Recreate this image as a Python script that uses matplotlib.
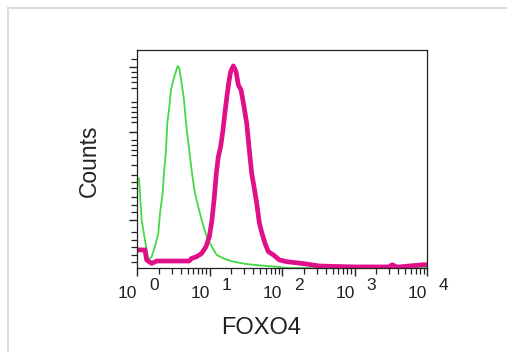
import numpy as np
import matplotlib
matplotlib.use("Agg")
import matplotlib.pyplot as plt
from matplotlib.lines import Line2D
from matplotlib.transforms import blended_transform_factory, ScaledTranslation

plt.rcParams['font.family'] = ['Liberation Sans', 'DejaVu Sans']

# Green histogram (isotype control): log10 intensity vs counts
green_log = [0.0, 0.028, 0.064, 0.11, 0.156, 0.202, 0.248, 0.294, 0.317, 0.354, 0.372,
             0.40, 0.418, 0.446, 0.469, 0.501, 0.529, 0.561, 0.584, 0.616, 0.648,
             0.676, 0.703, 0.731, 0.759, 0.791, 0.832, 0.892, 0.961, 1.03, 1.099,
             1.191, 1.329, 1.513, 1.697, 1.926, 2.06, 2.5, 3.0, 3.45, 3.49, 3.56,
             3.63, 3.7, 4.0]
green_cnt = [41.1, 41.1, 22.0, 12.8, 3.7, 5.2, 9.8, 15.9, 25.1, 34.3, 43.4,
             54.1, 66.4, 74.0, 81.7, 86.2, 89.3, 92.7, 91.6, 84.7, 77.1,
             66.4, 58.7, 51.1, 43.4, 35.8, 29.7, 22.0, 14.4, 9.8, 6.0,
             4.4, 2.9, 1.8, 1.2, 0.6, 0.0, 0.0, 0.0, 0.0, 1.0, 0.0,
             1.0, 0.0, 0.0]

# Magenta histogram (FOXO4 stained)
mag_log = [0.0, 0.028, 0.07, 0.11, 0.133, 0.202, 0.271, 0.35, 0.45, 0.55, 0.65, 0.72,
           0.754, 0.823, 0.892, 0.952, 0.998, 1.034, 1.067, 1.094, 1.122, 1.154,
           1.186, 1.214, 1.237, 1.264, 1.292, 1.329, 1.366, 1.398, 1.435, 1.476,
           1.513, 1.549, 1.582, 1.614, 1.651, 1.688, 1.724, 1.766, 1.812, 1.881,
           1.963, 2.064, 2.2, 2.34, 2.52, 3.0, 3.48, 3.52, 3.58, 3.62, 3.95, 3.99]
mag_cnt = [8.3, 8.3, 8.3, 8.3, 3.7, 2.1, 3.2, 3.2, 3.2, 3.2, 3.2, 3.2,
           4.4, 5.2, 6.7, 9.8, 14.4, 22.0, 32.7, 43.4, 51.1, 55.7,
           63.3, 71.7, 77.8, 84.7, 90.1, 92.7, 90.1, 83.9, 81.7, 74.0,
           66.4, 54.1, 43.4, 37.3, 29.7, 20.5, 15.9, 11.3, 7.5, 6.0,
           3.7, 2.9, 2.4, 1.8, 0.9, 0.5, 0.5, 1.5, 0.5, 0.5, 1.5, 1.5]

decades = [0, 1, 2, 3, 4]
xlabel = "FOXO4"
ylabel = "Counts"

fig = plt.figure(figsize=(5.07, 3.52), dpi=100)
ax = fig.add_axes([137/507, 1-268/352, 290/507, 218/352])

ax.plot(10**np.array(green_log), green_cnt, color='#45d845', lw=1.3)
ax.plot(10**np.array(mag_log), mag_cnt, color='#e0108a', lw=3.4, solid_joinstyle='round')

ax.set_xscale('log')
ax.set_xlim(1, 1e4)
ax.set_ylim(0, 100)

for s in ax.spines.values():
    s.set_color('#222222')
    s.set_linewidth(0.9)

ax.set_xticks([10.0**d for d in decades])
ax.xaxis.set_minor_locator(matplotlib.ticker.LogLocator(base=10, subs=np.arange(2, 10)))
ax.xaxis.set_minor_formatter(matplotlib.ticker.NullFormatter())
ax.tick_params(axis='x', which='major', direction='out', length=6, width=1, labelbottom=False, color='#222222')
ax.tick_params(axis='x', which='minor', direction='out', length=4, width=0.9, color='#222222')

ytick_px_major = [67, 132, 220]
ytick_px_minor = [59, 72, 77, 82, 88, 102, 107, 112, 117, 122, 140, 145, 150, 155,
                  165, 175, 182, 188, 197, 205, 212, 232, 240, 247, 255, 262]
ax.set_yticks([(268 - p) / 2.18 for p in ytick_px_major])
ax.set_yticks([(268 - p) / 2.18 for p in ytick_px_minor], minor=True)
ax.tick_params(axis='y', which='major', direction='out', length=6, width=1, labelleft=False, color='#222222')
ax.tick_params(axis='y', which='minor', direction='out', length=4, width=0.9, color='#222222')

trans = blended_transform_factory(ax.transData, ax.transAxes)
for d in decades:
    ax.text(10.0**d, 0, "10", transform=trans + ScaledTranslation(0/100, -25/100, fig.dpi_scale_trans),
            ha='right', va='center', fontsize=12.5, color='#222222')
    ax.text(10.0**d, 0, str(d), transform=trans + ScaledTranslation(12/100, -17/100, fig.dpi_scale_trans),
            ha='left', va='center', fontsize=12.5, color='#222222')

fig.text(261/507, 1-327.5/352, xlabel, ha='center', va='center', fontsize=17, color='#222222')
fig.text(89/507, 1-161/352, ylabel, ha='center', va='center', rotation=90, fontsize=16.5, color='#222222')

fig.add_artist(Line2D([8/507, 8/507], [0, 1-8/352], transform=fig.transFigure, color='#dcdcdc', lw=1.5))
fig.add_artist(Line2D([8/507, 1], [1-8/352, 1-8/352], transform=fig.transFigure, color='#dcdcdc', lw=1.5))

fig.savefig('out.png', dpi=100)
